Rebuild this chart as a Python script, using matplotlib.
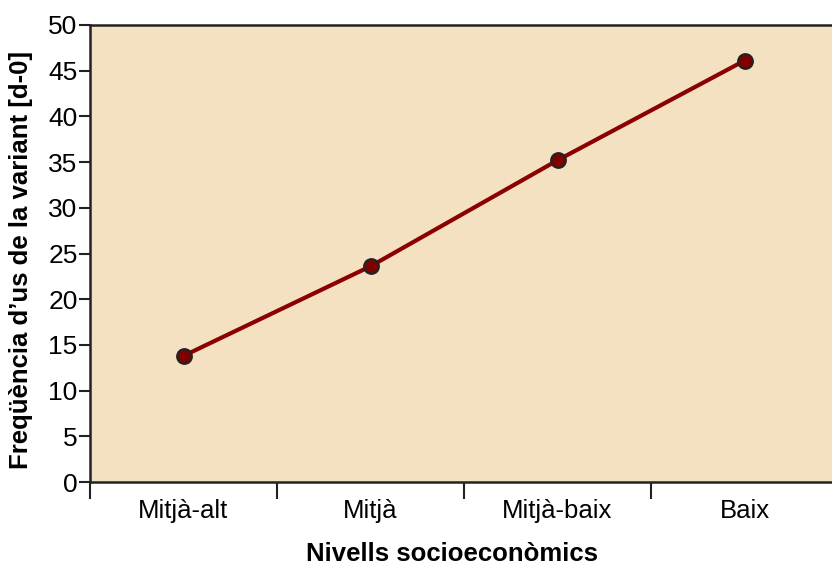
import numpy as np
import matplotlib.pyplot as plt

plt.rcParams['font.family'] = ['Liberation Sans', 'DejaVu Sans']

nivells = ['Mitjà-alt', 'Mitjà', 'Mitjà-baix', 'Baix']
frequencia = [13.8, 23.6, 35.2, 46.1]
yticks = [0, 5, 10, 15, 20, 25, 30, 35, 40, 45, 50]

fig = plt.figure(figsize=(8.32, 5.67), dpi=100)
ax = fig.add_axes([90/832, 85/567, 748/832, 457/567])
ax.set_facecolor('#F4E1C2')

x = np.arange(len(nivells))
ax.plot(x, frequencia, color='#8B0000', lw=3, zorder=3)
ax.plot(x, frequencia, 'o', ms=10.5, mfc='#800000', mec='#222222', mew=1.6, zorder=4)

ax.set_xlim(-0.5, 3.5)
ax.set_ylim(0, 50)
ax.set_yticks(yticks)

# ticks a les fronteres de categoria, etiquetes al centre
ax.set_xticks(np.arange(-0.5, 4, 1))
ax.set_xticklabels([])
ax.set_xticks(x, minor=True)
ax.set_xticklabels(nivells, minor=True)
ax.tick_params(axis='x', which='major', length=12, width=1.5, color='#222222')
ax.tick_params(axis='x', which='minor', length=0, pad=12, labelsize=18.5)
ax.tick_params(axis='y', length=8, width=1.5, color='#222222', labelsize=19, pad=1)

for s in ['top', 'left', 'bottom']:
    ax.spines[s].set_linewidth(1.8)
    ax.spines[s].set_color('#222222')
ax.spines['right'].set_visible(False)

ax.set_ylabel("Freqüència d’us de la variant [d-0]", fontsize=18.5, fontweight='bold')
ax.yaxis.set_label_coords(-57/748, 222/457)
fig.text(452/832, 1 - 561/567, 'Nivells socioeconòmics', fontsize=18.5, fontweight='bold',
         ha='center', va='baseline')

fig.savefig('out.png', dpi=100)
